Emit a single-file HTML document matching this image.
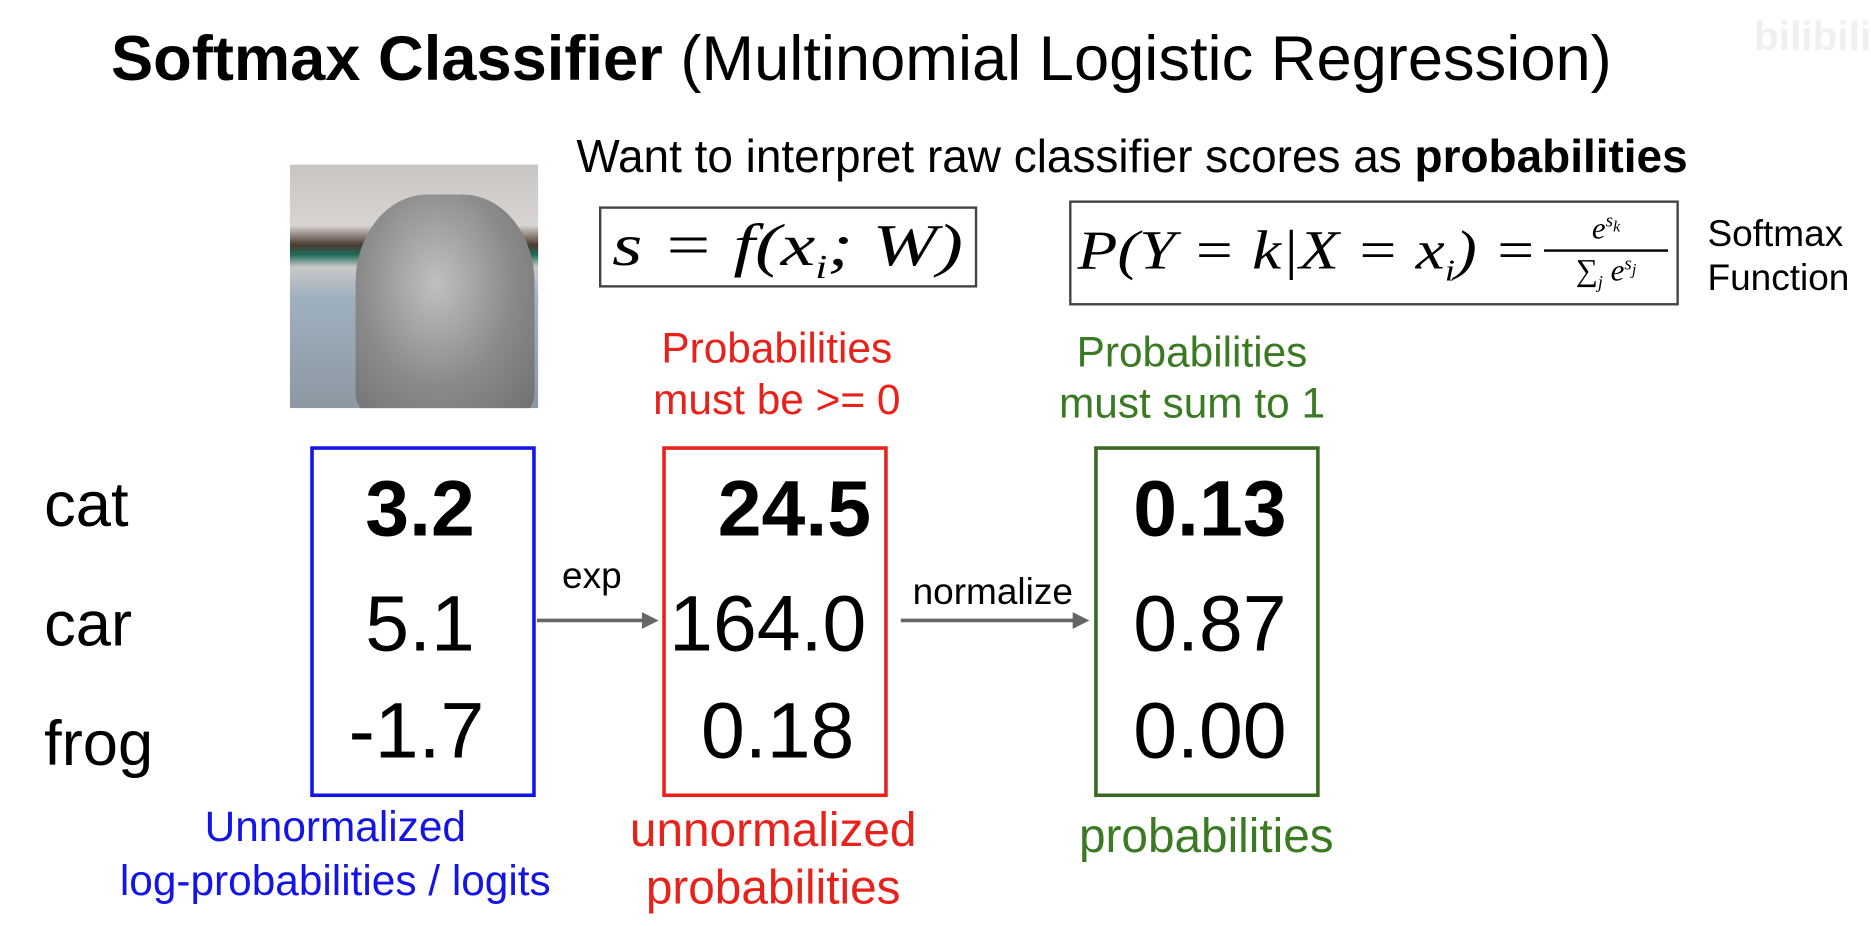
<!DOCTYPE html>
<html><head><meta charset="utf-8"><style>
html,body{margin:0;padding:0;background:#fff;width:1871px;height:925px;overflow:hidden}
#s{position:absolute;left:0;top:0;width:1568px;height:776px;transform:scale(1.1932);transform-origin:0 0;font-family:"Liberation Sans",sans-serif;color:#000}
.a{position:absolute;white-space:nowrap;line-height:1}
.c{transform:translateX(-50%);text-align:center}
.box{position:absolute;border:3px solid;box-sizing:border-box}
.m{font-family:"Liberation Serif",serif;font-style:italic;transform-origin:0 0}
.v{position:absolute;font-size:66px;line-height:1;white-space:nowrap}
</style></head><body>
<div id="s">
<div class="a" style="left:93px;top:23px;font-size:53px"><b>Softmax Classifier</b> (Multinomial Logistic Regression)</div>
<div class="a" style="left:1470px;top:14px;font-size:34px;color:#f0f0f0;font-weight:bold">bilibili</div>
<div class="a" style="left:243px;top:138px;width:208px;height:204px;overflow:hidden;background:linear-gradient(180deg,#c9c5c2 0%,#d8d4d2 25%,#4a3a30 33%,#1f6b5c 37%,#c8c8c8 42%,#9fb0bf 55%,#8d98a2 100%)">
<div style="position:absolute;left:55px;top:25px;width:150px;height:185px;background:radial-gradient(ellipse at 45% 40%,#c0c0c0 0%,#8a8a8a 55%,#6f6f6f 100%);border-radius:40% 40% 10% 10%"></div>
</div>
<div class="a" style="left:483px;top:113px;font-size:38.5px">Want to interpret raw classifier scores as <b>probabilities</b></div>
<div class="box" style="left:502px;top:173px;width:317px;height:68px;border:2px solid #444"></div>
<div class="a m" style="left:513px;top:180px;font-size:50px;transform:scaleX(1.3)">s = f(x<sub style="font-size:28px">i</sub>; W)</div>
<div class="box" style="left:896px;top:168px;width:511px;height:88px;border:2px solid #444"></div>
<div class="a m" style="left:903px;top:187px;font-size:46px;transform:scaleX(1.19)">P(Y = k|X = x<sub style="font-size:26px">i</sub>) =</div>
<div class="a m" style="left:1294px;top:176px;font-size:26px;text-align:center;width:104px;line-height:1.2">
<div style="border-bottom:2px solid #000;padding-bottom:2px">e<sup style="font-size:16px">s<sub>k</sub></sup></div>
<div>∑<sub style="font-size:15px">j</sub> e<sup style="font-size:16px">s<sub>j</sub></sup></div></div>
<div class="a" style="left:1431px;top:177px;font-size:31px;line-height:37px">Softmax<br>Function</div>
<div class="a c" style="left:651px;top:271px;font-size:35.5px;line-height:43px;color:#e8221b">Probabilities<br>must be &gt;= 0</div>
<div class="a c" style="left:999px;top:274px;font-size:35.5px;line-height:43px;color:#3a7a22">Probabilities<br>must sum to 1</div>
<div class="a" style="left:37px;top:397px;font-size:53px">cat</div>
<div class="a" style="left:37px;top:497px;font-size:53px">car</div>
<div class="a" style="left:37px;top:597px;font-size:53px">frog</div>
<div class="box" style="left:260px;top:374px;width:189px;height:294px;border-color:#1414e6"></div>
<div class="box" style="left:555px;top:374px;width:189px;height:294px;border-color:#e8221b"></div>
<div class="box" style="left:917px;top:374px;width:189px;height:294px;border-color:#3a6a22"></div>
<div class="v c" style="left:352px;top:393px;font-weight:bold">3.2</div>
<div class="v c" style="left:352px;top:489px">5.1</div>
<div class="v c" style="left:349px;top:579px">-1.7</div>
<div class="v" style="right:838px;top:393px;font-weight:bold">24.5</div>
<div class="v" style="right:842px;top:489px">164.0</div>
<div class="v" style="right:852px;top:579px">0.18</div>
<div class="v c" style="left:1014px;top:393px;font-weight:bold">0.13</div>
<div class="v c" style="left:1014px;top:489px">0.87</div>
<div class="v c" style="left:1014px;top:579px">0.00</div>
<svg class="a" style="left:0;top:0" width="1568" height="776">
<line x1="450" y1="520" x2="540" y2="520" stroke="#666" stroke-width="3"/><polygon points="552,520 538,513 538,527" fill="#666"/>
<line x1="755" y1="520" x2="900" y2="520" stroke="#666" stroke-width="3"/><polygon points="913,520 899,513 899,527" fill="#666"/>
</svg>
<div class="a c" style="left:496px;top:467px;font-size:31px">exp</div>
<div class="a c" style="left:832px;top:480px;font-size:31px">normalize</div>
<div class="a c" style="left:281px;top:671px;font-size:35.5px;line-height:45px;color:#1414e6">Unnormalized<br>log-probabilities / logits</div>
<div class="a c" style="left:648px;top:672px;font-size:40px;line-height:48px;color:#e8221b">unnormalized<br>probabilities</div>
<div class="a c" style="left:1011px;top:681px;font-size:40px;color:#3a7a22">probabilities</div>
</div>
</body></html>
